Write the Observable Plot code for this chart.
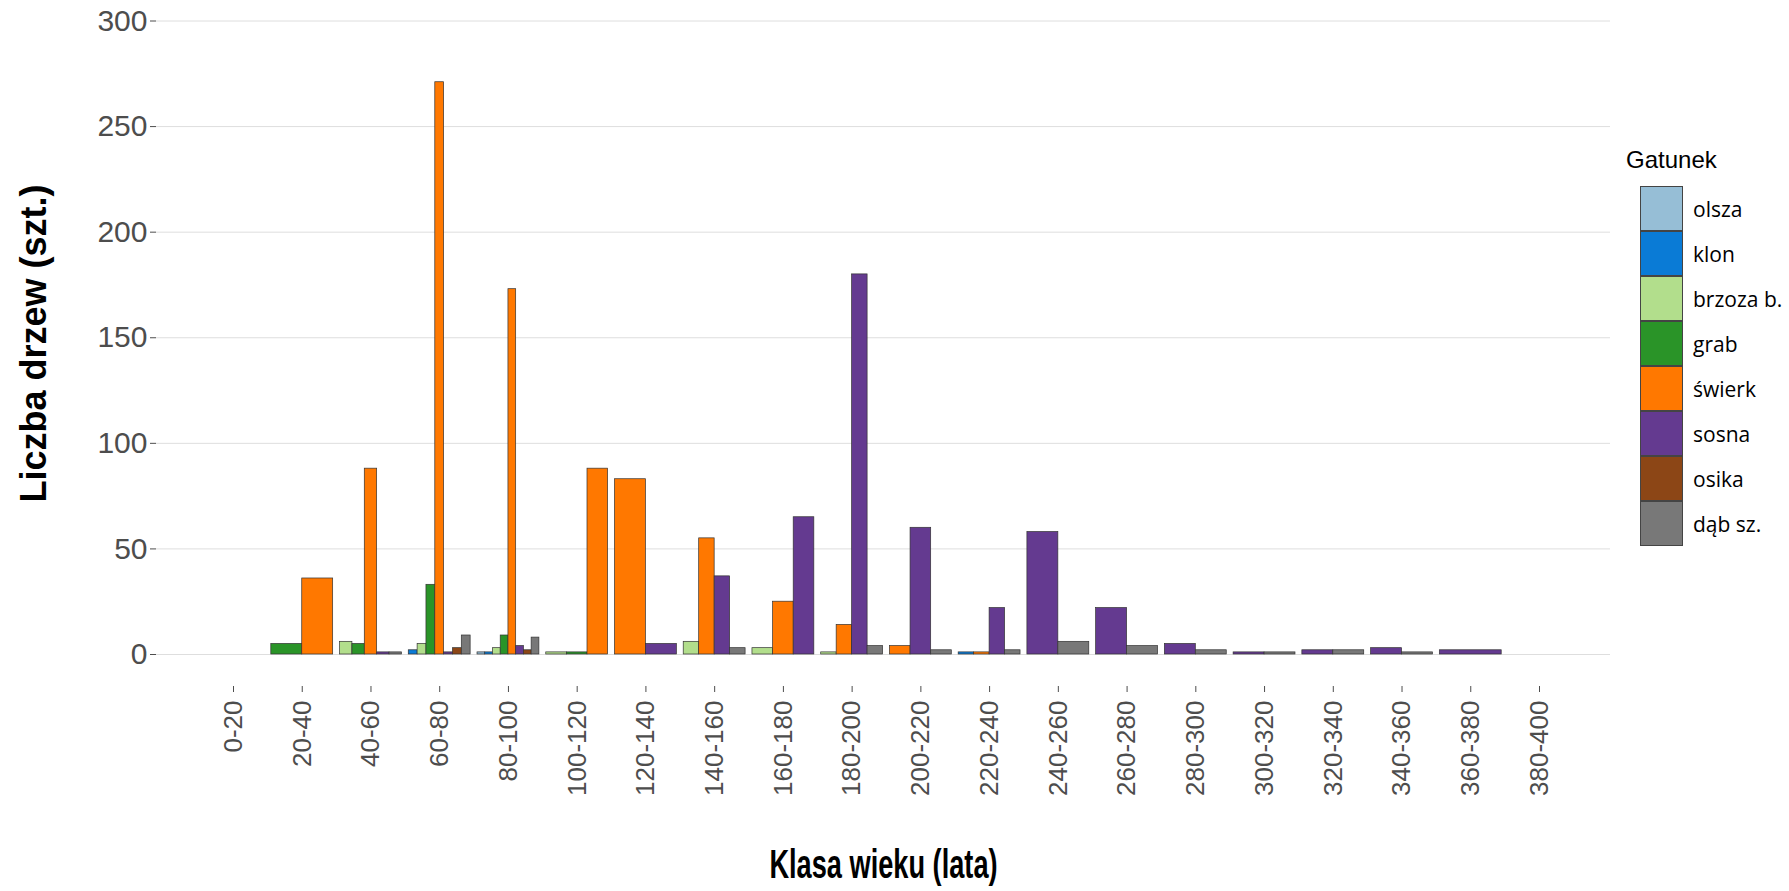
<!DOCTYPE html>
<html>
<head>
<meta charset="utf-8">
<script src="https://cdn.jsdelivr.net/npm/d3@7"></script>
<script src="https://cdn.jsdelivr.net/npm/@observablehq/plot@0.6"></script>
<style>
  html, body { margin: 0; padding: 0; background: #fff; }
  #wrap { position: relative; width: 1789px; height: 891px; }
  #legend { position: absolute; left: 1626px; top: 146px; font-family: "Liberation Sans", Arial, sans-serif; }
  #legend .title { font-size: 24px; color: #000; margin-bottom: 12px; }
  #legend .row { display: flex; align-items: center; height: 45px; }
  #legend .sw { width: 43px; height: 45px; box-sizing: border-box; border: 1px solid #444; margin-left: 14px; }
  #legend .lab { font-family: "Open Sans", sans-serif; font-size: 21px; margin-left: 10px; color: #000; }
</style>
</head>
<body>
<div id="wrap"><div id="chart"></div><div id="legend"></div></div>
<script>
const categories = ["0-20","20-40","40-60","60-80","80-100","100-120","120-140","140-160","160-180","180-200","200-220","220-240","240-260","260-280","280-300","300-320","320-340","340-360","360-380","380-400"];
const species = ["olsza","klon","brzoza b.","grab","świerk","sosna","osika","dąb sz."];
const colors = ["#96BED6","#0A7BD6","#B2DE8C","#2A9428","#FF7800","#643A90","#8C4616","#787878"];

const olsza  = [0,0,0,0,1,0,0,0,0,0,0,0,0,0,0,0,0,0,0,0];
const klon   = [0,0,0,2,1,0,0,0,0,0,0,1,0,0,0,0,0,0,0,0];
const brzoza = [0,0,6,5,3,1,0,6,3,1,0,0,0,0,0,0,0,0,0,0];
const grab   = [0,5,5,33,9,1,0,0,0,0,0,0,0,0,0,0,0,0,0,0];
const swierk = [0,36,88,271,173,88,83,55,25,14,4,1,0,0,0,0,0,0,0,0];
const sosna  = [0,0,1,1,4,0,5,37,65,180,60,22,58,22,5,1,2,3,2,0];
const osika  = [0,0,0,3,2,0,0,0,0,0,0,0,0,0,0,0,0,0,0,0];
const dab    = [0,0,1,9,8,0,0,3,0,4,2,2,6,4,2,1,2,1,0,0];

const yTicks = [0,50,100,150,200,250,300];

const series = [olsza, klon, brzoza, grab, swierk, sosna, osika, dab];

// ggplot-style dodge: bars present in a class share the 0.9 width
const rows = [];
categories.forEach((cat, i) => {
  const present = species.map((s, k) => ({s, v: series[k][i]})).filter(d => d.v > 0);
  const n = present.length;
  present.forEach((d, j) => {
    rows.push({cat, species: d.s, value: d.v, x1: i - 0.45 + j * 0.9 / n, x2: i - 0.45 + (j + 1) * 0.9 / n});
  });
});

const chart = Plot.plot({
  width: 1789,
  height: 891,
  marginLeft: 156,
  marginRight: 179,
  marginTop: 0,
  marginBottom: 205,
  style: {fontFamily: "Liberation Sans, Arial, sans-serif", background: "#fff"},
  x: {domain: [0, categories.length - 1], range: [233, 1539]},
  y: {domain: [0, 300], range: [654, 20.5]},
  color: {domain: species, range: colors},
  marks: [
    Plot.gridY(yTicks, {stroke: "#dedede", strokeOpacity: 1, strokeWidth: 1}),
    Plot.rect(rows, {x1: "x1", x2: "x2", y1: 0, y2: "value", fill: "species", stroke: "#333", strokeWidth: 0.7}),
    Plot.axisY(yTicks, {tickSize: 6, tickPadding: 3, fontSize: 30, color: "#4d4d4d", label: null}),
    Plot.axisX(d3.range(categories.length), {tickFormat: i => categories[i], tickRotate: -90, tickSize: 6, tickPadding: 8, fontSize: 26, color: "#4d4d4d", label: null}),
    Plot.text(["Liczba drzew (szt.)"], {text: d => d, frameAnchor: "left", textAnchor: "middle", rotate: -90, dx: -122, fontSize: 36, fontWeight: "bold", fill: "#000"}),
    Plot.text(["Klasa wieku (lata)"], {text: d => d, frameAnchor: "bottom", textAnchor: "middle", dy: 191, fontSize: 40, fontWeight: "bold", fill: "#000", className: "xtitle"})
  ]
});
document.getElementById("chart").appendChild(chart);

// horizontal squeeze of the x-axis title to match the reference's proportions
d3.select(chart).selectAll(".xtitle text").each(function() {
  const tr = this.getAttribute("transform") || "";
  const x = +(this.getAttribute("x") || 0), y = +(this.getAttribute("y") || 0);
  this.removeAttribute("x"); this.removeAttribute("y");
  this.setAttribute("transform", `${tr} translate(${x},${y}) scale(0.68,1)`);
});

const legend = d3.select("#legend");
legend.append("div").attr("class", "title").text("Gatunek");
species.forEach((s, k) => {
  const r = legend.append("div").attr("class", "row");
  r.append("div").attr("class", "sw").style("background", colors[k]);
  r.append("div").attr("class", "lab").text(s);
});
</script>
</body>
</html>
